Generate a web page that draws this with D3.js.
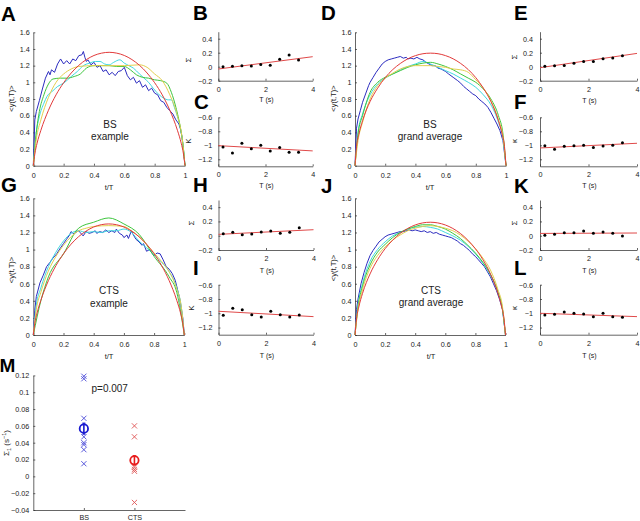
<!DOCTYPE html>
<html><head><meta charset="utf-8">
<script src="https://cdn.jsdelivr.net/npm/d3@7"></script>
<style>body{margin:0;background:#fff}svg{display:block}text{font-family:"Liberation Sans",Arial,sans-serif}</style>
</head><body><svg id="c" width="640" height="521"></svg>
<script>
// ---------- DATA ----------
const curveYTicks=[0,0.2,0.4,0.6,0.8,1,1.2,1.4,1.6];
const curveXTicks=[0,0.2,0.4,0.6,0.8,1];
const sigmaTicks=[-0.2,0,0.2,0.4];
const kappaTicks=[-1.2,-1,-0.8,-0.6];
const TTicks=[0,2,4];
const Tvals=[0.2,0.6,1.0,1.4,1.8,2.2,2.6,3.0,3.4];
const Tfit=[0,4];

const A_blue=[[0,0],[0.01,0.55],[0.02,0.65],[0.04,0.78],[0.06,0.92],[0.08,1.05],[0.1,1.13],[0.11,1.09],[0.12,1.15],[0.14,1.12],[0.16,1.22],[0.18,1.28],[0.2,1.22],[0.22,1.26],[0.24,1.22],[0.26,1.28],[0.28,1.26],[0.3,1.32],[0.32,1.33],[0.33,1.37],[0.34,1.3],[0.35,1.25],[0.36,1.27],[0.38,1.21],[0.4,1.24],[0.42,1.18],[0.44,1.2],[0.46,1.13],[0.48,1.15],[0.5,1.09],[0.52,1.12],[0.54,1.08],[0.56,1.13],[0.58,1.14],[0.6,1.18],[0.62,1.08],[0.64,1.03],[0.66,1.06],[0.68,0.99],[0.7,1.02],[0.72,0.94],[0.74,0.97],[0.76,0.9],[0.78,0.93],[0.8,0.87],[0.82,0.85],[0.84,0.78],[0.86,0.76],[0.88,0.7],[0.9,0.66],[0.92,0.62],[0.94,0.55],[0.96,0.5],[0.97,0.44],[0.98,0.35],[1,0]];
const A_cyan=[[0,0],[0.02,0.4],[0.04,0.59],[0.07,0.75],[0.09,0.83],[0.13,0.9],[0.16,0.95],[0.2,0.99],[0.25,1.07],[0.29,1.13],[0.33,1.2],[0.37,1.23],[0.41,1.25],[0.44,1.25],[0.47,1.22],[0.5,1.21],[0.53,1.24],[0.57,1.27],[0.6,1.23],[0.63,1.2],[0.66,1.17],[0.7,1.1],[0.73,1.05],[0.76,1.0],[0.79,0.93],[0.83,0.85],[0.86,0.81],[0.89,0.79],[0.91,0.79],[0.93,0.7],[0.95,0.59],[0.97,0.45],[0.99,0.2],[1,0]];
const A_green=[[0,0],[0.02,0.4],[0.04,0.65],[0.07,0.85],[0.1,0.98],[0.13,1.04],[0.18,1.05],[0.22,1.05],[0.27,1.07],[0.31,1.1],[0.35,1.17],[0.4,1.2],[0.45,1.2],[0.5,1.2],[0.55,1.19],[0.6,1.19],[0.64,1.15],[0.68,1.09],[0.72,1.06],[0.76,1.05],[0.8,1.03],[0.84,1.02],[0.88,0.99],[0.91,0.88],[0.94,0.7],[0.97,0.45],[0.99,0.2],[1,0]];
const A_yellow=[[0,0],[0.02,0.32],[0.05,0.55],[0.1,0.82],[0.15,1.0],[0.2,1.1],[0.25,1.16],[0.3,1.19],[0.4,1.2],[0.5,1.2],[0.6,1.2],[0.7,1.21],[0.75,1.18],[0.8,1.1],[0.85,1.02],[0.9,0.85],[0.95,0.6],[0.98,0.35],[1,0]];
const A_red=[[0,0],[0.01,0.14],[0.025,0.27],[0.05,0.425],[0.1,0.665],[0.15,0.85],[0.2,0.995],[0.25,1.112],[0.3,1.204],[0.35,1.273],[0.4,1.322],[0.45,1.35],[0.5,1.36],[0.55,1.35],[0.6,1.322],[0.65,1.273],[0.7,1.204],[0.75,1.112],[0.8,0.995],[0.85,0.85],[0.9,0.665],[0.95,0.425],[0.975,0.27],[0.99,0.14],[1,0]];

const D_blue=[[0,0],[0.01,0.45],[0.02,0.56],[0.035,0.66],[0.05,0.76],[0.07,0.86],[0.09,0.96],[0.1,1.0],[0.12,1.06],[0.14,1.12],[0.16,1.17],[0.18,1.22],[0.2,1.25],[0.22,1.27],[0.24,1.28],[0.26,1.29],[0.28,1.3],[0.3,1.31],[0.32,1.29],[0.34,1.3],[0.35,1.28],[0.37,1.29],[0.39,1.28],[0.41,1.3],[0.43,1.28],[0.45,1.27],[0.47,1.24],[0.49,1.22],[0.51,1.2],[0.53,1.2],[0.55,1.17],[0.57,1.16],[0.6,1.13],[0.62,1.1],[0.65,1.06],[0.68,1.02],[0.7,0.99],[0.72,0.95],[0.74,0.92],[0.76,0.89],[0.78,0.86],[0.8,0.84],[0.82,0.8],[0.84,0.77],[0.86,0.74],[0.88,0.7],[0.9,0.64],[0.92,0.57],[0.94,0.5],[0.96,0.42],[0.98,0.3],[1,0]];
const D_cyan=[[0,0],[0.02,0.4],[0.05,0.62],[0.1,0.85],[0.15,0.98],[0.2,1.05],[0.25,1.1],[0.3,1.15],[0.35,1.19],[0.4,1.22],[0.45,1.25],[0.5,1.22],[0.55,1.18],[0.6,1.14],[0.65,1.1],[0.7,1.05],[0.75,1.0],[0.8,0.94],[0.85,0.85],[0.9,0.73],[0.95,0.52],[0.98,0.32],[1,0]];
const D_green=[[0,0],[0.02,0.38],[0.05,0.6],[0.1,0.88],[0.15,1.0],[0.2,1.06],[0.25,1.1],[0.3,1.14],[0.35,1.18],[0.4,1.21],[0.45,1.23],[0.5,1.24],[0.55,1.22],[0.6,1.19],[0.65,1.15],[0.7,1.1],[0.75,1.05],[0.8,1.0],[0.85,0.92],[0.9,0.8],[0.95,0.6],[0.98,0.38],[1,0]];
const D_yellow=[[0,0],[0.02,0.3],[0.05,0.52],[0.1,0.8],[0.15,0.96],[0.2,1.05],[0.25,1.11],[0.3,1.16],[0.35,1.19],[0.4,1.2],[0.45,1.2],[0.5,1.2],[0.55,1.19],[0.6,1.18],[0.65,1.16],[0.7,1.15],[0.75,1.12],[0.8,1.03],[0.85,0.93],[0.9,0.78],[0.95,0.55],[0.98,0.35],[1,0]];
const D_red=[[0,0],[0.01,0.23],[0.025,0.375],[0.05,0.54],[0.1,0.77],[0.15,0.93],[0.2,1.056],[0.25,1.153],[0.3,1.226],[0.35,1.282],[0.4,1.32],[0.45,1.343],[0.5,1.35],[0.55,1.343],[0.6,1.32],[0.65,1.282],[0.7,1.226],[0.75,1.153],[0.8,1.056],[0.85,0.93],[0.9,0.77],[0.95,0.54],[0.975,0.375],[0.99,0.23],[1,0]];

const G_blue=[[0,0],[0.01,0.29],[0.02,0.45],[0.044,0.61],[0.066,0.7],[0.088,0.8],[0.11,0.85],[0.13,0.9],[0.155,0.95],[0.18,1.02],[0.2,1.07],[0.22,1.12],[0.24,1.17],[0.25,1.21],[0.27,1.18],[0.28,1.2],[0.3,1.22],[0.31,1.2],[0.33,1.16],[0.35,1.21],[0.37,1.19],[0.39,1.2],[0.41,1.22],[0.42,1.19],[0.44,1.21],[0.46,1.2],[0.48,1.23],[0.5,1.2],[0.52,1.22],[0.54,1.2],[0.55,1.24],[0.57,1.19],[0.59,1.17],[0.6,1.14],[0.62,1.17],[0.63,1.13],[0.65,1.22],[0.66,1.18],[0.68,1.12],[0.7,1.09],[0.72,1.05],[0.73,1.07],[0.75,0.98],[0.77,1.0],[0.79,0.95],[0.8,0.93],[0.82,0.96],[0.84,0.95],[0.86,0.88],[0.88,0.8],[0.9,0.77],[0.92,0.72],[0.94,0.64],[0.95,0.57],[0.97,0.42],[0.99,0.2],[1,0]];
const G_cyan=[[0,0],[0.02,0.35],[0.05,0.55],[0.1,0.8],[0.15,0.97],[0.2,1.1],[0.25,1.19],[0.3,1.22],[0.35,1.2],[0.4,1.21],[0.45,1.2],[0.5,1.22],[0.55,1.22],[0.6,1.24],[0.65,1.2],[0.7,1.1],[0.75,1.02],[0.8,0.94],[0.85,0.85],[0.9,0.74],[0.95,0.55],[0.98,0.33],[1,0]];
const G_green=[[0,0],[0.05,0.4],[0.1,0.68],[0.2,0.95],[0.3,1.25],[0.4,1.32],[0.5,1.37],[0.6,1.3],[0.7,1.18],[0.8,0.92],[0.9,0.68],[0.95,0.5],[1,0]];
const G_yellow=[[0,0],[0.02,0.3],[0.05,0.5],[0.1,0.75],[0.15,0.92],[0.2,1.05],[0.25,1.15],[0.3,1.22],[0.35,1.25],[0.4,1.27],[0.5,1.28],[0.6,1.27],[0.65,1.22],[0.7,1.15],[0.75,1.06],[0.8,0.96],[0.85,0.86],[0.9,0.74],[0.95,0.54],[0.98,0.33],[1,0]];
const G_red=[[0,0],[0.01,0.135],[0.025,0.258],[0.05,0.406],[0.1,0.636],[0.15,0.812],[0.2,0.951],[0.25,1.063],[0.3,1.151],[0.35,1.217],[0.4,1.264],[0.45,1.291],[0.5,1.3],[0.55,1.291],[0.6,1.264],[0.65,1.217],[0.7,1.151],[0.75,1.063],[0.8,0.951],[0.85,0.812],[0.9,0.636],[0.95,0.406],[0.975,0.258],[0.99,0.135],[1,0]];

const J_blue=[[0,0],[0.01,0.3],[0.02,0.42],[0.04,0.6],[0.06,0.73],[0.08,0.84],[0.1,0.93],[0.12,0.99],[0.14,1.04],[0.16,1.09],[0.18,1.12],[0.2,1.15],[0.22,1.17],[0.24,1.18],[0.26,1.19],[0.28,1.2],[0.3,1.21],[0.32,1.21],[0.34,1.22],[0.36,1.23],[0.38,1.22],[0.4,1.23],[0.42,1.22],[0.44,1.21],[0.46,1.22],[0.48,1.2],[0.5,1.21],[0.52,1.19],[0.54,1.2],[0.56,1.18],[0.58,1.17],[0.6,1.16],[0.62,1.15],[0.64,1.14],[0.66,1.12],[0.68,1.1],[0.7,1.07],[0.72,1.05],[0.74,1.02],[0.76,0.99],[0.78,0.95],[0.8,0.92],[0.82,0.88],[0.84,0.84],[0.86,0.8],[0.88,0.74],[0.9,0.68],[0.92,0.6],[0.94,0.52],[0.96,0.42],[0.98,0.3],[1,0]];
const J_cyan=[[0,0],[0.02,0.35],[0.05,0.6],[0.1,0.86],[0.15,1.0],[0.2,1.09],[0.25,1.16],[0.3,1.2],[0.35,1.24],[0.4,1.26],[0.45,1.27],[0.5,1.26],[0.55,1.24],[0.6,1.2],[0.65,1.16],[0.7,1.11],[0.75,1.04],[0.8,0.95],[0.85,0.84],[0.9,0.7],[0.95,0.5],[0.98,0.3],[1,0]];
const J_green=[[0,0],[0.02,0.33],[0.05,0.57],[0.1,0.82],[0.15,0.97],[0.2,1.06],[0.25,1.14],[0.3,1.2],[0.35,1.24],[0.4,1.27],[0.45,1.29],[0.5,1.29],[0.55,1.27],[0.6,1.24],[0.65,1.19],[0.7,1.13],[0.75,1.05],[0.8,0.96],[0.85,0.85],[0.9,0.71],[0.95,0.5],[0.98,0.3],[1,0]];
const J_yellow=[[0,0],[0.02,0.3],[0.05,0.53],[0.1,0.78],[0.15,0.93],[0.2,1.03],[0.25,1.11],[0.3,1.17],[0.35,1.22],[0.4,1.25],[0.45,1.27],[0.5,1.28],[0.55,1.27],[0.6,1.25],[0.65,1.22],[0.7,1.17],[0.75,1.1],[0.8,1.01],[0.85,0.9],[0.9,0.76],[0.95,0.53],[0.98,0.33],[1,0]];
const J_red=[[0,0],[0.01,0.19],[0.025,0.326],[0.05,0.487],[0.1,0.715],[0.15,0.881],[0.2,1.01],[0.25,1.11],[0.3,1.189],[0.35,1.247],[0.4,1.288],[0.45,1.312],[0.5,1.32],[0.55,1.312],[0.6,1.288],[0.65,1.247],[0.7,1.189],[0.75,1.11],[0.8,1.01],[0.85,0.881],[0.9,0.715],[0.95,0.487],[0.975,0.326],[0.99,0.19],[1,0]];

const B_sigma=[0.0,0.005,0.012,0.01,0.03,0.02,0.105,0.167,0.095];
const B_fit=[-0.033,0.143];
const C_kappa=[-1.024,-1.11,-0.97,-1.05,-1.0,-1.08,-1.03,-1.1,-1.1];
const C_fit=[-1.005,-1.08];
const E_sigma=[0.005,0.012,0.016,0.05,0.075,0.075,0.115,0.125,0.155];
const E_fit=[-0.014,0.19];
const F_kappa=[-1.005,-1.057,-1.014,-1.005,-1.0,-1.033,-1.01,-1.0,-0.962];
const F_fit=[-1.038,-0.971];
const H_sigma=[0.028,0.047,0.014,0.023,0.051,0.065,0.033,0.047,0.112];
const H_fit=[0.019,0.084];
const I_kappa=[-1.028,-0.93,-0.95,-1.019,-1.052,-0.972,-1.019,-1.052,-1.023];
const I_fit=[-0.972,-1.047];
const K_sigma=[0.005,0.019,0.042,0.042,0.065,0.033,0.051,0.033,-0.005];
const K_fit=[0.032,0.038];
const L_kappa=[-1.024,-1.014,-0.981,-1.0,-1.01,-1.047,-1.0,-1.047,-1.056];
const L_fit=[-1.0,-1.047];

const groups=["BS","CTS"];
const BS_vals=[0.119,0.116,0.069,0.047,0.040,0.0377,0.0317,0.015];
const CTS_vals=[0.060,0.047,0.011,0.0083,0.006,-0.031];
const group_mean=[0.0567,0.019];
const group_err=[0.0065,0.0055];
const M_yTicks=[-0.04,-0.02,0,0.02,0.04,0.06,0.08,0.1,0.12];
const pText="p=0.007";

// ---------- DRAW ----------
const svg=d3.select("#c");
const col={blue:"#2c2cc0",cyan:"#3fd9df",green:"#3ec63e",yellow:"#e3cf4e",red:"#e23a3a"};
const fmt=d3.format("~g");
function styleAxis(g,fs){
  g.attr("font-family",null).attr("font-size",null);
  g.selectAll("path,line").attr("stroke","#333").attr("stroke-width",0.75);
  g.selectAll("text").attr("font-size",fs||7.2).attr("fill","#222").style("font-family",'"Liberation Sans",Arial,sans-serif');
}
function txt(x,y,s,o){
  o=o||{};
  const t=svg.append("text").attr("x",x).attr("y",y).text(s)
    .attr("font-size",o.fs||7.5).attr("fill","#222").attr("text-anchor",o.anchor||"middle");
  if(o.bold)t.attr("font-weight","bold");
  if(o.rot)t.attr("transform",`rotate(-90,${x},${y})`);
  return t;
}
function letter(x,y,s,fs){txt(x,y,s,{fs:fs||20.5,bold:true,anchor:"start"}).attr("fill","#000");}

const curvePanels=[
 {L:"A",lx:1,ly:21,x0:33.3,x1:185,y0:165.7,y1:32.3,s:[A_blue,A_cyan,A_green,A_yellow,A_red],t:["BS","example"],tx:110,ty:[128,140],ylx:13.5,yly:98.5,xlx:109,xly:190},
 {L:"D",lx:321,ly:20,x0:355,x1:506,y0:165.7,y1:32.3,s:[D_blue,D_cyan,D_green,D_yellow,D_red],t:["BS","grand average"],tx:430,ty:[128,140],ylx:335.5,yly:98.5,xlx:430,xly:190},
 {L:"G",lx:1,ly:192,x0:33.3,x1:184.3,y0:335,y1:198.3,s:[G_blue,G_cyan,G_green,G_yellow,G_red],t:["CTS","example"],tx:109,ty:[294,307],ylx:13.5,yly:270,xlx:109,xly:359},
 {L:"J",lx:321,ly:193,x0:355,x1:505.5,y0:335,y1:198.3,s:[J_blue,J_cyan,J_green,J_yellow,J_red],t:["CTS","grand average"],tx:431,ty:[294,306],ylx:335.5,yly:268,xlx:431,xly:359}
];
const colOrder=["blue","cyan","green","yellow","red"];
curvePanels.forEach(p=>{
  const x=d3.scaleLinear().domain([0,1]).range([p.x0,p.x1]);
  const y=d3.scaleLinear().domain([0,1.6]).range([p.y0,p.y1]);
  styleAxis(svg.append("g").attr("transform",`translate(0,${p.y0})`).call(d3.axisBottom(x).tickValues(curveXTicks).tickFormat(fmt).tickSize(-2).tickSizeOuter(0).tickPadding(7)));
  styleAxis(svg.append("g").attr("transform",`translate(${p.x0},0)`).call(d3.axisLeft(y).tickValues(curveYTicks).tickFormat(fmt).tickSize(-2).tickSizeOuter(0).tickPadding(3.5)));
  p.s.forEach((d,i)=>{
    const line=d3.line().x(v=>x(v[0])).y(v=>y(v[1])).curve(i===0?d3.curveLinear:d3.curveMonotoneX);
    svg.append("path").datum(d).attr("d",line).attr("fill","none").attr("stroke",col[colOrder[i]]).attr("stroke-width",1);
  });
  txt(p.tx,p.ty[0],p.t[0],{fs:10});
  txt(p.tx,p.ty[1],p.t[1],{fs:10});
  txt(p.ylx,p.yly,"<y(t,T)>",{fs:7.5,rot:true});
  txt(p.xlx,p.xly,"t/T",{fs:7.5});
  letter(p.lx,p.ly,p.L);
});

const smallPanels=[
 {L:"B",lx:193,ly:20,x0:218.3,x1:312.7,y0:80.7,y1:31.7,dom:[-0.2,0.5],ticks:sigmaTicks,v:B_sigma,f:B_fit,lab:"Σ",ylx:190.5,yly:60,xly:102,pad:6},
 {L:"C",lx:194,ly:109,x0:218.3,x1:312.7,y0:166.3,y1:117.3,dom:[-1.3,-0.6],ticks:kappaTicks,v:C_kappa,f:C_fit,lab:"K",ylx:190.5,yly:141,xly:188,pad:6},
 {L:"E",lx:514,ly:20,x0:540,x1:637,y0:80.7,y1:31.7,dom:[-0.2,0.5],ticks:sigmaTicks,v:E_sigma,f:E_fit,lab:"Σ",ylx:517,yly:57,xly:103,pad:7},
 {L:"F",lx:514,ly:109,x0:540,x1:637,y0:166.3,y1:117.3,dom:[-1.3,-0.6],ticks:kappaTicks,v:F_kappa,f:F_fit,lab:"κ",ylx:517,yly:141,xly:188,pad:7},
 {L:"H",lx:193,ly:192,x0:218.5,x1:313.5,y0:250,y1:200,dom:[-0.2,0.5],ticks:sigmaTicks,v:H_sigma,f:H_fit,lab:"Σ",ylx:193.5,yly:223,xly:273,pad:6},
 {L:"I",lx:193,ly:275,x0:218.5,x1:313.5,y0:334.7,y1:284.7,dom:[-1.3,-0.6],ticks:kappaTicks,v:I_kappa,f:I_fit,lab:"K",ylx:194,yly:308,xly:358,pad:6},
 {L:"K",lx:514,ly:193,x0:540,x1:637,y0:250,y1:200,dom:[-0.2,0.5],ticks:sigmaTicks,v:K_sigma,f:K_fit,lab:"Σ",ylx:517,yly:223,xly:273,pad:7},
 {L:"L",lx:514,ly:275,x0:540,x1:637,y0:334.7,y1:284.7,dom:[-1.3,-0.6],ticks:kappaTicks,v:L_kappa,f:L_fit,lab:"κ",ylx:517,yly:308,xly:358,pad:7}
];
smallPanels.forEach(p=>{
  const x=d3.scaleLinear().domain([0,4]).range([p.x0,p.x1]);
  const y=d3.scaleLinear().domain(p.dom).range([p.y0,p.y1]);
  styleAxis(svg.append("g").attr("transform",`translate(0,${p.y0})`).call(d3.axisBottom(x).tickValues(TTicks).tickFormat(fmt).tickSize(-2).tickSizeOuter(0).tickPadding(6)));
  styleAxis(svg.append("g").attr("transform",`translate(${p.x0},0)`).call(d3.axisLeft(y).tickValues(p.ticks).tickFormat(fmt).tickSize(-2).tickSizeOuter(0).tickPadding(p.pad)));
  svg.append("line").attr("x1",x(Tfit[0])).attr("x2",x(Tfit[1])).attr("y1",y(p.f[0])).attr("y2",y(p.f[1]))
    .attr("stroke","#e04a4a").attr("stroke-width",1);
  svg.append("g").selectAll("circle").data(p.v).join("circle")
    .attr("cx",(d,i)=>x(Tvals[i])).attr("cy",d=>y(d)).attr("r",1.5).attr("fill","#000");
  txt(p.ylx,p.yly,p.lab,{fs:8,rot:true});
  txt((p.x0+p.x1)/2+1,p.xly,"T (s)",{fs:7});
  letter(p.lx,p.ly,p.L);
});

// Panel M
(function(){
  const x=d3.scalePoint().domain(groups).range([33.3,185]).padding(1);
  const y=d3.scaleLinear().domain([-0.04,0.12]).range([510,375.4]);
  styleAxis(svg.append("g").attr("transform","translate(0,510)").call(d3.axisBottom(x).tickSize(-2).tickSizeOuter(0).tickPadding(5)));
  styleAxis(svg.append("g").attr("transform","translate(33.3,0)").call(d3.axisLeft(y).tickValues(M_yTicks).tickFormat(fmt).tickSize(-2).tickSizeOuter(0).tickPadding(4)));
  const sets=[{g:"BS",v:BS_vals,c:"#4a4ad8",m:"#1a1ad0"},{g:"CTS",v:CTS_vals,c:"#e05555",m:"#e81c1c"}];
  const h=2.6;
  sets.forEach((s,k)=>{
    const cx=x(s.g);
    svg.append("g").selectAll("path").data(s.v).join("path")
      .attr("d",d=>{const cy=y(d);return `M${cx-h},${cy-h}L${cx+h},${cy+h}M${cx-h},${cy+h}L${cx+h},${cy-h}`;})
      .attr("stroke",s.c).attr("stroke-width",0.9).attr("fill","none");
    const m=group_mean[k],e=group_err[k];
    svg.append("line").attr("x1",cx).attr("x2",cx).attr("y1",y(m-e)).attr("y2",y(m+e)).attr("stroke",s.m).attr("stroke-width",1.6);
    [m-e,m+e].forEach(v=>svg.append("line").attr("x1",cx-1.5).attr("x2",cx+1.5).attr("y1",y(v)).attr("y2",y(v)).attr("stroke",s.m).attr("stroke-width",1.2));
    svg.append("circle").attr("cx",cx).attr("cy",y(m)).attr("r",4.2).attr("fill","none").attr("stroke",s.m).attr("stroke-width",1.8);
  });
  txt(91.5,392,pText,{fs:10,anchor:"start"});
  const yl=svg.append("text").attr("transform","translate(9,443) rotate(-90)").attr("text-anchor","middle").attr("font-size",8).attr("fill","#222");
  yl.append("tspan").text("Σ");
  yl.append("tspan").attr("font-size",5.5).attr("dy",1.8).text("1");
  yl.append("tspan").attr("dy",-1.8).text(" (s");
  yl.append("tspan").attr("font-size",5.5).attr("dy",-3).text("−1");
  yl.append("tspan").attr("dy",3).text(")");
  letter(-0.5,372,"M",19);
})();
</script></body></html>
